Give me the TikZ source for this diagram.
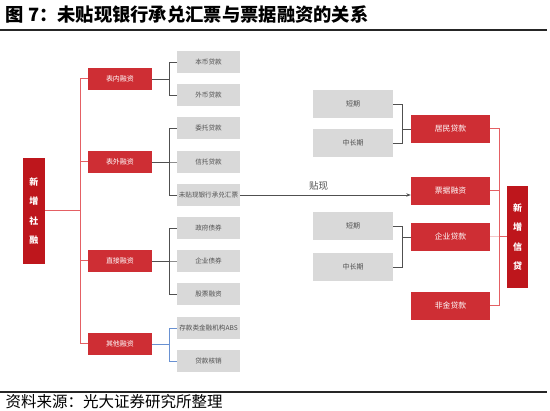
\documentclass[tikz,border=0pt]{standalone}
\usepackage{fontspec}
\setmainfont{Noto Sans CJK SC}
\usetikzlibrary{arrows.meta,positioning}
\definecolor{deepred}{RGB}{190,22,28}
\definecolor{softred}{RGB}{206,46,52}
\definecolor{linkred}{RGB}{228,96,100}
\definecolor{softgray}{RGB}{217,217,217}
\definecolor{inkgray}{RGB}{80,80,80}
\definecolor{linkblue}{RGB}{105,145,210}
\tikzset{
  hub/.style={rectangle, fill=deepred, minimum width=22pt, minimum height=106pt, inner sep=0pt,
              align=center, text=white, font=\bfseries\fontsize{9}{19.5}\selectfont},
  block/.style={rectangle, fill=softred, minimum width=64pt, minimum height=22pt, inner sep=0pt,
                text=white, font=\fontsize{7}{8}\selectfont},
  blockwide/.style={block, minimum width=79pt, minimum height=28pt, font=\fontsize{7.8}{9}\selectfont},
  leaf/.style={rectangle, fill=softgray, minimum width=63pt, minimum height=22pt, inner sep=0pt,
               text=inkgray, font=\fontsize{6.6}{7}\selectfont},
  leafwide/.style={leaf, minimum width=80pt, minimum height=28pt, font=\fontsize{7}{8}\selectfont},
  link/.style={inkgray, line width=0.9pt},
  bluelink/.style={linkblue, line width=0.9pt},
  redlink/.style={linkred, line width=1pt},
  arrow/.style={-{Stealth[length=1.6mm]}, inkgray, line width=0.6pt},
  rule/.style={black!85, line width=1.3pt},
}

\begin{document}
\begin{tikzpicture}[x=1pt, y=-1pt]
\useasboundingbox (0,0) rectangle (550,411);
% title and source
\node[anchor=west, font=\bfseries\fontsize{18.3}{19}\selectfont] (title) at (2,14) {图 7：未贴现银行承兑汇票与票据融资的关系};
\draw[rule] (0,30) -- (547,30);
\draw[rule] (0,392) -- (547,392);
\node[anchor=west, font=\fontsize{15.5}{16}\selectfont] (source) at (2,402) {资料来源：光大证券研究所整理};

% left side: social financing
\node[hub] (sr) at (34,211) {新\\增\\社\\融};
\node[block] (bn) at (120,79) {表内融资};
\node[block] (bw) at (120,162) {表外融资};
\node[block] (zj) at (120,261) {直接融资};
\node[block] (qt) at (120,344) {其他融资};
\foreach \n/\y/\t in {bb/62/本币贷款, wb/95/外币贷款, wt/128/委托贷款, xt/162/信托贷款,
                      wtx/195/未贴现银行承兑汇票, zf/228/政府债券, qz/261/企业债券, gp/294/股票融资,
                      abs/328/存款类金融机构ABS, hx/361/贷款核销}
  \node[leaf] (\n) at (208.5,\y) {\t};

% right side: new loans
\node[hub, minimum width=21pt, minimum height=102pt] (xd) at (517.5,237) {新\\增\\信\\贷};
\node[blockwide] (jm) at (450.5,129) {居民贷款};
\node[blockwide] (pj) at (450.5,191) {票据融资};
\node[blockwide] (qy) at (450.5,237) {企业贷款};
\node[blockwide] (fj) at (450.5,306) {非金贷款};
\foreach \n/\y/\t in {dq1/104/短期, cc1/143/中长期, dq2/226/短期, cc2/267/中长期}
  \node[leafwide] (\n) at (353,\y) {\t};

% connectors
\foreach \a in {bn, bw, zj, qt}
  \draw[redlink] (\a.west) -- ++(-7,0) |- (sr.east);
\foreach \a/\b in {bb/bn, wb/bn, wt/bw, xt/bw, wtx/bw, zf/zj, qz/zj, gp/zj}
  \draw[link] (\a.west) -- ++(-7,0) |- (\b.east);
\foreach \a in {abs, hx}
  \draw[bluelink] (\a.west) -- ++(-7,0) |- (qt.east);
\foreach \a in {jm, pj, qy, fj}
  \draw[redlink] (\a.east) -- ++(9,0) |- (xd.west);
\foreach \a/\b in {dq1/jm, cc1/jm, dq2/qy, cc2/qy}
  \draw[link] (\a.east) -- ++(9,0) |- (\b.west);
\draw[arrow] (wtx.east) -- (wtx.east -| pj.west)
  node[pos=0.46, above=1pt, text=inkgray, font=\fontsize{9.5}{10}\selectfont] {贴现};
\end{tikzpicture}
\end{document}
